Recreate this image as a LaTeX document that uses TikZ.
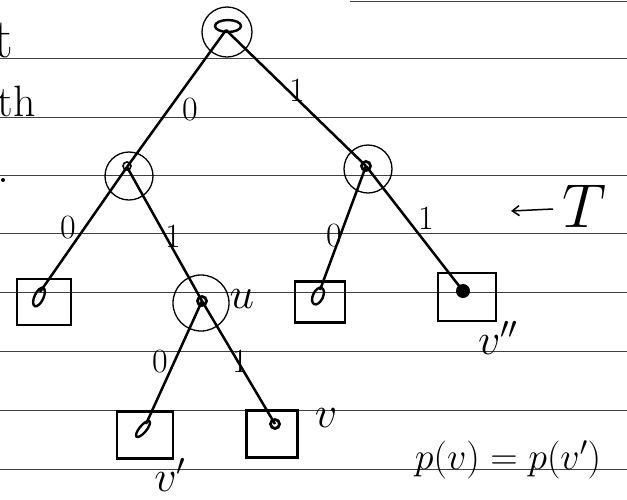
\RequirePackage{fix-cm}
\documentclass[tikz,border=0pt]{standalone}
\usetikzlibrary{arrows.meta}
\begin{document}
\begin{tikzpicture}[x=1pt,y=-1pt,
  rule/.style={black!75,line width=1pt},
  ring/.style={draw,circle,line width=1.3pt,inner sep=0pt},
  leafbox/.style={draw,line width=2.8pt,inner sep=0pt,minimum width=54pt,minimum height=46pt},
  edge/.style={line width=2.5pt},
  innermark/.style={line width=2.4pt},
  lab/.style={font=\fontsize{34}{36}\selectfont,inner sep=0pt},
  mlab/.style={font=\fontsize{44}{46}\selectfont,inner sep=0pt}]
\useasboundingbox (0,0) rectangle (627,499);
\fill[white] (0,0) rectangle (627,499);
\foreach \yy in {58,117,175,233,292,351,410,469} \draw[rule] (0,\yy) -- (627,\yy);
\draw[rule] (350,1) -- (627,1);

% cut-off text at the left edge
\node[anchor=base east,inner sep=0pt,font=\fontsize{56}{56}\selectfont] (frag1) at (14,57) {t};
\node[anchor=base east,inner sep=0pt,font=\fontsize{44}{44}\selectfont] (frag2) at (36,116) {th};
\fill (3,180) circle (2);

% internal nodes
\node[ring,minimum size=50pt] (root) at (227,32) {};
\node[ring,minimum size=48pt] (n0) at (129,176) {};
\node[ring,minimum size=48pt] (n1) at (368,169) {};
\node[ring,minimum size=56pt] (u) at (201,303) {};
% leaves
\node[leafbox] (l00) at (44,302) {};
\node[leafbox,minimum width=50pt,minimum height=41pt] (l10) at (320,302) {};
\node[leafbox,minimum width=58pt,minimum height=48pt] (l11) at (467,297) {};
\node[leafbox,minimum width=56pt,minimum height=47pt] (vp) at (145,435) {};
\node[leafbox,minimum width=51pt,minimum height=47pt] (v) at (272,434) {};

% inner marks
\coordinate (rc) at (226,30);
\coordinate (n0c) at (127,167);
\coordinate (n1c) at (366,166);
\coordinate (uc) at (202,301);
\coordinate (l00c) at (40,292);
\coordinate (l10c) at (320,290);
\coordinate (l11c) at (463,291);
\coordinate (vpc) at (146,424);
\coordinate (vc) at (275,424);

\draw[innermark] (228,26) ellipse [x radius=13, y radius=6];
\draw[line width=1.6pt] (127,166) circle (4);
\draw[line width=2.8pt] (366,166) circle (4.5);
\draw[line width=2.8pt] (202,301) circle (4.5);
\draw[innermark] (39,297) ellipse [x radius=4.5, y radius=10, rotate=-25];
\draw[innermark] (318,296) ellipse [x radius=5, y radius=9, rotate=-25];
\fill (463,291) circle (7);
\draw[innermark] (143,429) ellipse [x radius=3.5, y radius=10, rotate=-40];
\draw[line width=2.8pt] (275,424) circle (4.5);

% edges
\draw[edge] (rc) -- (n0c);
\draw[edge] (rc) -- (n1c);
\draw[edge] (n0c) -- (l00c);
\draw[edge] (n0c) -- (uc);
\draw[edge] (n1c) -- (l10c);
\draw[edge] (n1c) -- (l11c);
\draw[edge] (uc) -- (vpc);
\draw[edge] (uc) -- (vc);

% edge labels
\node[lab] (e1) at (190,110) {0};
\node[lab] (e2) at (297,90) {1};
\node[lab] (e3) at (68,228) {0};
\node[lab] (e4) at (173,236) {1};
\node[lab] (e5) at (334,236) {0};
\node[lab] (e6) at (426,218) {1};
\node[lab] (e7) at (160,362) {0};
\node[lab] (e8) at (240,361) {1};

% node labels
\node[mlab] (ul) at (242,299) {$u$};
\node[mlab] (vl) at (326,418) {$v$};
\node[mlab] (vpl) at (170,475) {$v'$};
\node[mlab] (vppl) at (498,338) {$v''$};

% T with arrow
\node[inner sep=0pt,font=\fontsize{62}{64}\selectfont] (T) at (585,206) {$T$};
\coordinate (Tend) at (511,211);
\draw[line width=1.5pt,-{Straight Barb[length=7pt,width=10pt]}] (553,209) -- (Tend);

% equation
\node[inner sep=0pt,font=\fontsize{38}{40}\selectfont] (eq) at (508,460) {$p(v)=p(v')$};
\end{tikzpicture}
\end{document}
